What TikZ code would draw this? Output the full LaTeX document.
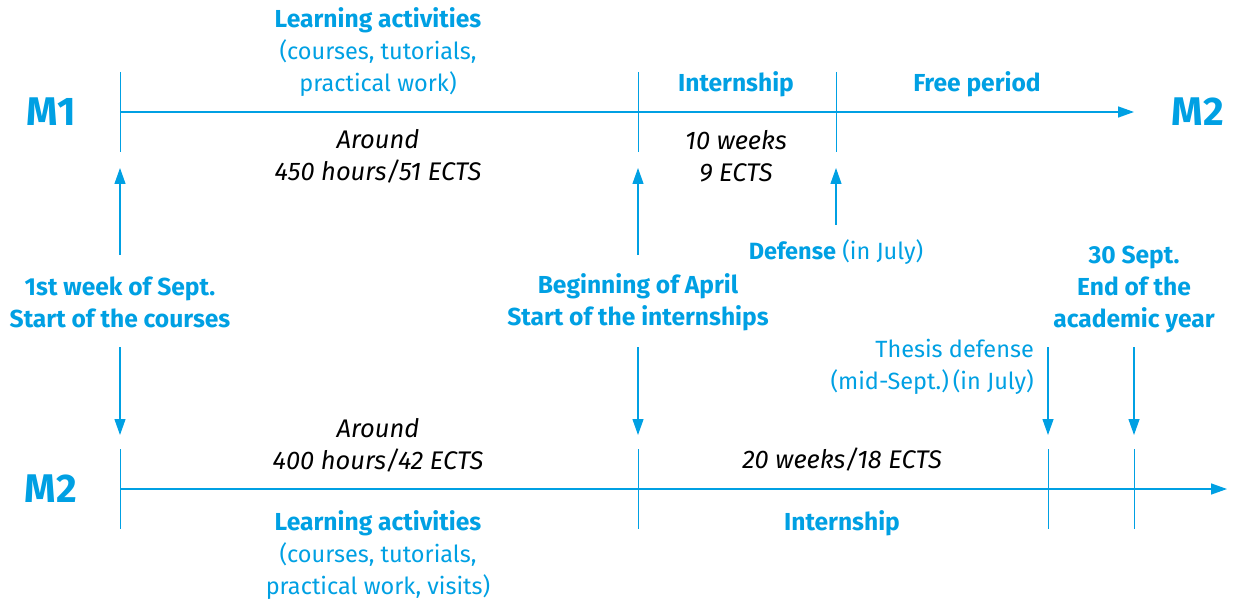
\documentclass[tikz,border=0pt]{standalone}
\usepackage{fontspec}
\setmainfont{Fira Sans}
\usetikzlibrary{arrows.meta}
\definecolor{cyanblue}{RGB}{0,160,227}
\tikzstyle{lbl} = [text=cyanblue, align=center, inner sep=0pt,
    font=\fontsize{23.5}{32}\selectfont]
\tikzstyle{lblbold} = [lbl, font=\fontsize{24.6}{32}\selectfont\bfseries]
\tikzstyle{info} = [align=center, inner sep=0pt,
    font=\fontsize{25.5}{32}\selectfont\itshape]
\tikzstyle{yearlbl} = [text=cyanblue, inner sep=0pt, font=\fontsize{40}{40}\selectfont\bfseries]
\tikzstyle{axis} = [draw=cyanblue, line width=1.4pt, -{Triangle[length=16pt,width=11pt]}]
\tikzstyle{tick} = [draw=cyanblue, line width=1pt]
\tikzstyle{pointer} = [draw=cyanblue, line width=1.2pt, -{Triangle[length=16pt,width=11pt]}]

\begin{document}
\begin{tikzpicture}[x=1pt, y=-1pt]
    \useasboundingbox (0,0) rectangle (1234,604);

    % first year
    \node[yearlbl] (m1) at (51,112) {M1};
    \node[yearlbl] (m1next) at (1198,112) {M2};
    \coordinate (m1start) at (120,112);
    \coordinate (m1end) at (1134,112);
    \draw[axis] (m1start) -- (m1end);
    \foreach \x/\n in {120/a, 638/b, 836/c}{
        \coordinate (m1top\n) at (\x,72);
        \coordinate (m1bot\n) at (\x,152);
        \draw[tick] (m1top\n) -- (m1bot\n);
    }
    \node[lblbold] (m1learn) at (378,20) {Learning activities};
    \node[lbl] (m1learnsub) at (378,68) {(courses, tutorials,\\practical work)};
    \node[lblbold] (m1intern) at (736,84) {Internship};
    \node[lblbold] (m1free) at (977,84) {Free period};
    \node[info] (m1hours) at (378,156) {Around\\450 hours/51 ECTS};
    \node[info] (m1weeks) at (736,156) {10 weeks\\9 ECTS};

    % dates between the two years
    \node[lblbold] (sept) at (120,302) {1st week of Sept.\\Start of the courses};
    \node[lblbold] (april) at (638,302) {Beginning of April\\Start of the internships};
    \node[lbl] (defense) at (836,252) {\textbf{Defense} (in July)};
    \node[lblbold] (endyear) at (1134,289) {30 Sept.\\End of the\\academic year};
    \node[lbl, align=right, anchor=east] (thesis) at (1034,367) {Thesis defense\\(mid-Sept.)\,(in July)};

    \coordinate (upa) at (120,168);
    \coordinate (upb) at (638,168);
    \coordinate (upc) at (836,168);
    \coordinate (lowa) at (120,255);
    \coordinate (lowb) at (638,255);
    \coordinate (lowc) at (836,225);
    \draw[pointer] (lowa) -- (upa);
    \draw[pointer] (lowb) -- (upb);
    \draw[pointer] (lowc) -- (upc);

    \foreach \x/\n in {120/a, 638/b, 1048/c, 1134/d}{
        \coordinate (dtop\n) at (\x,347);
        \coordinate (dbot\n) at (\x,435);
        \draw[pointer] (dtop\n) -- (dbot\n);
    }

    % second year
    \node[yearlbl] (m2) at (51,489) {M2};
    \coordinate (m2start) at (120,489);
    \coordinate (m2end) at (1227,489);
    \draw[axis] (m2start) -- (m2end);
    \foreach \x/\n in {120/a, 638/b, 1048/c, 1134/d}{
        \coordinate (m2top\n) at (\x,449);
        \coordinate (m2bot\n) at (\x,529);
        \draw[tick] (m2top\n) -- (m2bot\n);
    }
    \node[info] (m2hours) at (378,445) {Around\\400 hours/42 ECTS};
    \node[info] (m2weeks) at (842,460) {20 weeks/18 ECTS};
    \node[lblbold] (m2learn) at (378,523) {Learning activities};
    \node[lbl] (m2learnsub) at (378,571) {(courses, tutorials,\\practical work, visits)};
    \node[lblbold] (m2intern) at (842,523) {Internship};
\end{tikzpicture}
\end{document}
